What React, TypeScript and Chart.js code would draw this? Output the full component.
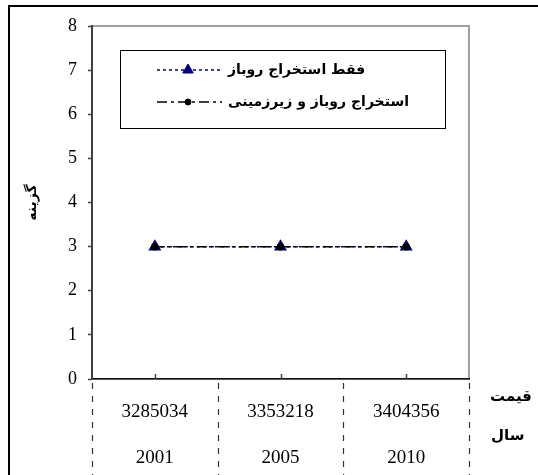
import React, { useEffect, useRef } from 'react';
import { Chart, registerables } from 'chart.js';

Chart.register(...registerables);

// data table rows under the axis
const prices = ['3285034', '3353218', '3404356'];
const years = ['2001', '2005', '2010'];
const rowTitles = ['قیمت', 'سال'];

// series values
const openPitOnly = [3, 3, 3];
const openPitAndUnderground = [3, 3, 3];
const seriesNames = ['فقط استخراج روباز', 'استخراج روباز و زیرزمینی'];

const yTitle = 'گزینه';
const yMin = 0;
const yMax = 8;
const yStep = 1;

const SERIF = '"Liberation Serif", "Times New Roman", serif';
const ARABIC = '"DejaVu Sans", sans-serif';

function drawMarker(ctx: CanvasRenderingContext2D, style: string, r: number, x: number, y: number) {
  ctx.beginPath();
  if (style === 'triangle') {
    let a = -Math.PI / 2;
    ctx.moveTo(x + Math.cos(a) * r, y + Math.sin(a) * r);
    a += (2 * Math.PI) / 3;
    ctx.lineTo(x + Math.cos(a) * r, y + Math.sin(a) * r);
    a += (2 * Math.PI) / 3;
    ctx.lineTo(x + Math.cos(a) * r, y + Math.sin(a) * r);
    ctx.closePath();
  } else {
    ctx.arc(x, y, r, 0, Math.PI * 2);
  }
  ctx.fill();
  ctx.stroke();
}

const decorPlugin = {
  id: 'decor',
  beforeDraw(chart: any) {
    const { ctx, chartArea: a } = chart;
    ctx.save();
    // grey plot-area frame
    ctx.strokeStyle = '#a0a0a0';
    ctx.lineWidth = 2;
    ctx.beginPath();
    ctx.moveTo(a.left, a.top);
    ctx.lineTo(a.right, a.top);
    ctx.lineTo(a.right, a.bottom);
    ctx.lineTo(a.left, a.bottom);
    ctx.stroke();
    ctx.restore();
  },
  afterDraw(chart: any) {
    const { ctx, chartArea: a } = chart;
    const xs = chart.scales.x;
    const n = chart.data.labels.length;
    const w = (a.right - a.left) / n;
    ctx.save();

    // dashed separators of the data table
    ctx.strokeStyle = '#333';
    ctx.lineWidth = 1.2;
    ctx.setLineDash([6, 7]);
    for (let i = 0; i <= n; i++) {
      const px = Math.round(xs.getPixelForValue(0) - w / 2 + i * w) + 0.5;
      ctx.beginPath();
      ctx.moveTo(px, a.bottom + 4);
      ctx.lineTo(px, chart.height);
      ctx.stroke();
    }

    // small tick marks at category centres, pointing up
    ctx.setLineDash([]);
    ctx.strokeStyle = '#404040';
    ctx.lineWidth = 1.5;
    for (let i = 0; i < n; i++) {
      const px = Math.round(xs.getPixelForValue(i)) + 0.5;
      ctx.beginPath();
      ctx.moveTo(px, a.bottom);
      ctx.lineTo(px, a.bottom - 5);
      ctx.stroke();
    }

    // row titles on the right of the table
    ctx.fillStyle = '#000';
    ctx.font = `bold 15px ${ARABIC}`;
    ctx.textAlign = 'left';
    ctx.textBaseline = 'middle';
    ctx.fillText(rowTitles[0], a.right + 21, a.bottom + 18);
    ctx.fillText(rowTitles[1], a.right + 22, a.bottom + 57);

    // legend box
    const lx = a.left + 28;
    const ly = a.top + 24;
    const lw = 325;
    const lh = 78;
    ctx.fillStyle = '#fff';
    ctx.fillRect(lx, ly, lw, lh);
    ctx.strokeStyle = '#000';
    ctx.lineWidth = 1;
    ctx.strokeRect(lx + 0.5, ly + 0.5, lw, lh);

    chart.data.datasets.forEach((ds: any, i: number) => {
      const cy = ly + 20 + i * 32;
      ctx.strokeStyle = ds.borderColor;
      ctx.lineWidth = ds.borderWidth;
      ctx.setLineDash(ds.borderDash);
      ctx.beginPath();
      ctx.moveTo(lx + 37, cy);
      ctx.lineTo(lx + 102, cy);
      ctx.stroke();
      ctx.setLineDash([]);
      ctx.fillStyle = ds.pointBackgroundColor;
      ctx.strokeStyle = ds.pointBorderColor;
      ctx.lineWidth = 1;
      drawMarker(ctx, ds.pointStyle, ds.pointRadius, lx + 68, cy);
      ctx.fillStyle = '#000';
      ctx.font = `bold 14px ${ARABIC}`;
      ctx.textAlign = 'left';
      ctx.textBaseline = 'middle';
      ctx.fillText(ds.label, lx + 108, cy);
    });

    ctx.restore();
  },
};

export default function App() {
  const canvasRef = useRef<HTMLCanvasElement>(null);
  const chartRef = useRef<Chart | null>(null);

  useEffect(() => {
    const canvas = canvasRef.current;
    if (!canvas) return;
    if (chartRef.current) chartRef.current.destroy();

    const labels = prices.map((p, i) => [p, years[i]]);

    chartRef.current = new Chart(canvas, {
      type: 'line',
      data: {
        labels,
        datasets: [
          {
            label: seriesNames[0],
            data: openPitOnly,
            borderColor: '#000080',
            borderWidth: 1.5,
            borderDash: [3, 3],
            pointStyle: 'triangle',
            pointRadius: 6,
            pointBackgroundColor: '#000080',
            pointBorderColor: '#000080',
            order: 2,
          },
          {
            label: seriesNames[1],
            data: openPitAndUnderground,
            borderColor: '#000000',
            borderWidth: 1.5,
            borderDash: [10, 4, 3, 4],
            pointStyle: 'circle',
            pointRadius: 3,
            pointBackgroundColor: '#000000',
            pointBorderColor: '#000000',
            order: 1,
          },
        ],
      },
      plugins: [decorPlugin],
      options: {
        animation: false,
        responsive: true,
        maintainAspectRatio: false,
        layout: { padding: { left: 0, right: 69, top: 26, bottom: 0 } },
        plugins: {
          legend: { display: false },
          tooltip: { enabled: false },
        },
        scales: {
          x: {
            type: 'category',
            offset: true,
            grid: { display: false, drawTicks: false },
            border: { display: true, color: '#111', width: 1.5, dash: [7, 5] },
            ticks: {
              padding: 10,
              color: '#000',
              maxRotation: 0,
              autoSkip: false,
              font: { family: SERIF, size: 19, lineHeight: '46px' },
            },
            afterFit: (scale: any) => {
              scale.height = 141;
            },
          },
          y: {
            min: yMin,
            max: yMax,
            grid: {
              display: true,
              drawOnChartArea: false,
              drawTicks: true,
              tickLength: 4,
              tickColor: '#404040',
              tickWidth: 1.5,
            },
            border: { display: true, color: '#404040', width: 2 },
            ticks: {
              stepSize: yStep,
              padding: 11,
              color: '#000',
              font: { family: SERIF, size: 18 },
            },
            title: {
              display: true,
              text: yTitle,
              color: '#000',
              padding: { top: 24, bottom: 0 },
              font: { family: ARABIC, size: 14, weight: 'bold' },
            },
            afterFit: (scale: any) => {
              scale.width = 92;
            },
          },
        },
      },
    });

    return () => {
      if (chartRef.current) {
        chartRef.current.destroy();
        chartRef.current = null;
      }
    };
  }, []);

  return (
    <div style={{ position: 'fixed', left: 0, top: 0, width: 538, height: 475, overflow: 'hidden', background: '#fff' }}>
      <div
        style={{
          position: 'absolute',
          left: 8,
          top: 5,
          width: 560,
          height: 500,
          borderLeft: '2px solid #000',
          borderTop: '2px solid #000',
          boxSizing: 'border-box',
        }}
      />
      <div style={{ position: 'absolute', left: 0, top: 0, width: 538, height: 520 }}>
        <canvas ref={canvasRef} />
      </div>
    </div>
  );
}
